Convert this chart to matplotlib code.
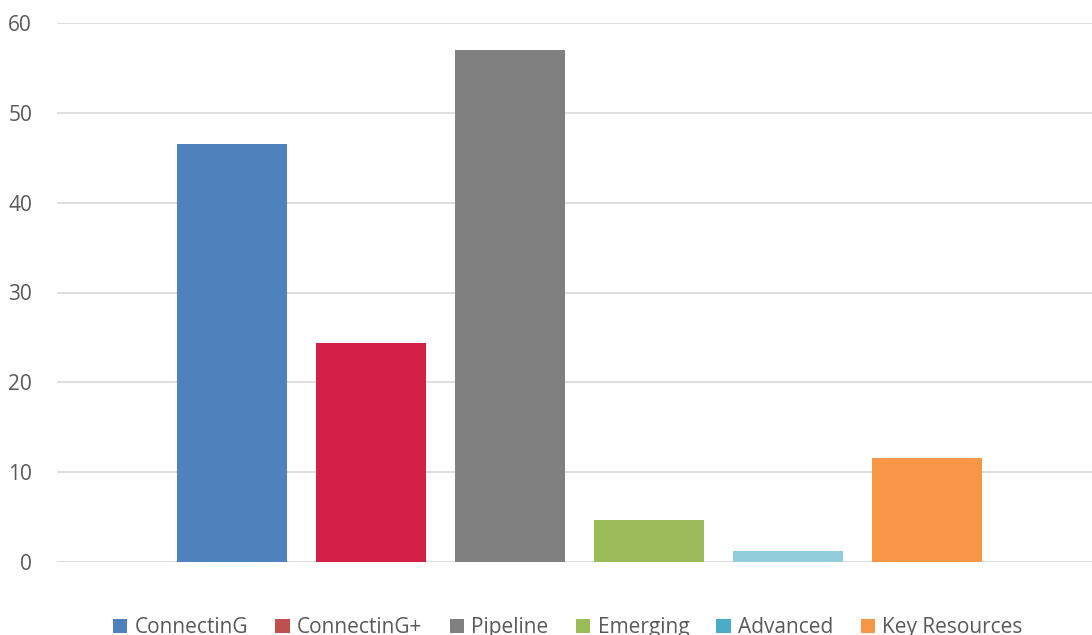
import matplotlib
matplotlib.use("Agg")
import matplotlib.pyplot as plt
from matplotlib.patches import Patch
from matplotlib import font_manager

series = ["ConnectinG", "ConnectinG+", "Pipeline", "Emerging", "Advanced", "Key Resources"]
values = [46.5, 24.4, 57.0, 4.7, 1.2, 11.6]
bar_colors = ["#4F81BD", "#D42046", "#808080", "#9BBB59", "#92CDDC", "#F79646"]
legend_colors = ["#4F81BD", "#C0504D", "#808080", "#9BBB59", "#4BACC6", "#F79646"]
yticks = [0, 10, 20, 30, 40, 50, 60]

names = {f.name for f in font_manager.fontManager.ttflist}
family = "Liberation Sans Narrow" if "Liberation Sans Narrow" in names else "Open Sans"
plt.rcParams["font.family"] = [family, "DejaVu Sans"]

fig = plt.figure(figsize=(10.92, 6.35), dpi=100)
ax = fig.add_axes([57 / 1092, 73 / 635, 1 - 57 / 1092, (562 - 23) / 635])

x = list(range(len(series)))
ax.bar(x, values, width=0.79, color=bar_colors, zorder=3)

ax.set_xlim(-1.259, 6.187)
ax.set_ylim(0, 60)
ax.set_yticks(yticks)
ax.set_xticks([])
ax.yaxis.grid(True, color="#D9D9D9", linewidth=1.2, zorder=0)
for s in ["top", "right", "left", "bottom"]:
    ax.spines[s].set_visible(False)
ax.tick_params(axis="y", length=0, pad=18, labelsize=15, labelcolor="#595959")

handles = [Patch(facecolor=c, edgecolor="none") for c in legend_colors]
leg = fig.legend(handles, series, loc="lower center", bbox_to_anchor=(0.52, -0.035),
                 ncol=6, frameon=False, fontsize=15, handlelength=0.7, handleheight=0.7,
                 handletextpad=0.35, columnspacing=1.3)
for t in leg.get_texts():
    t.set_color("#595959")

fig.savefig("out.png", dpi=100)
